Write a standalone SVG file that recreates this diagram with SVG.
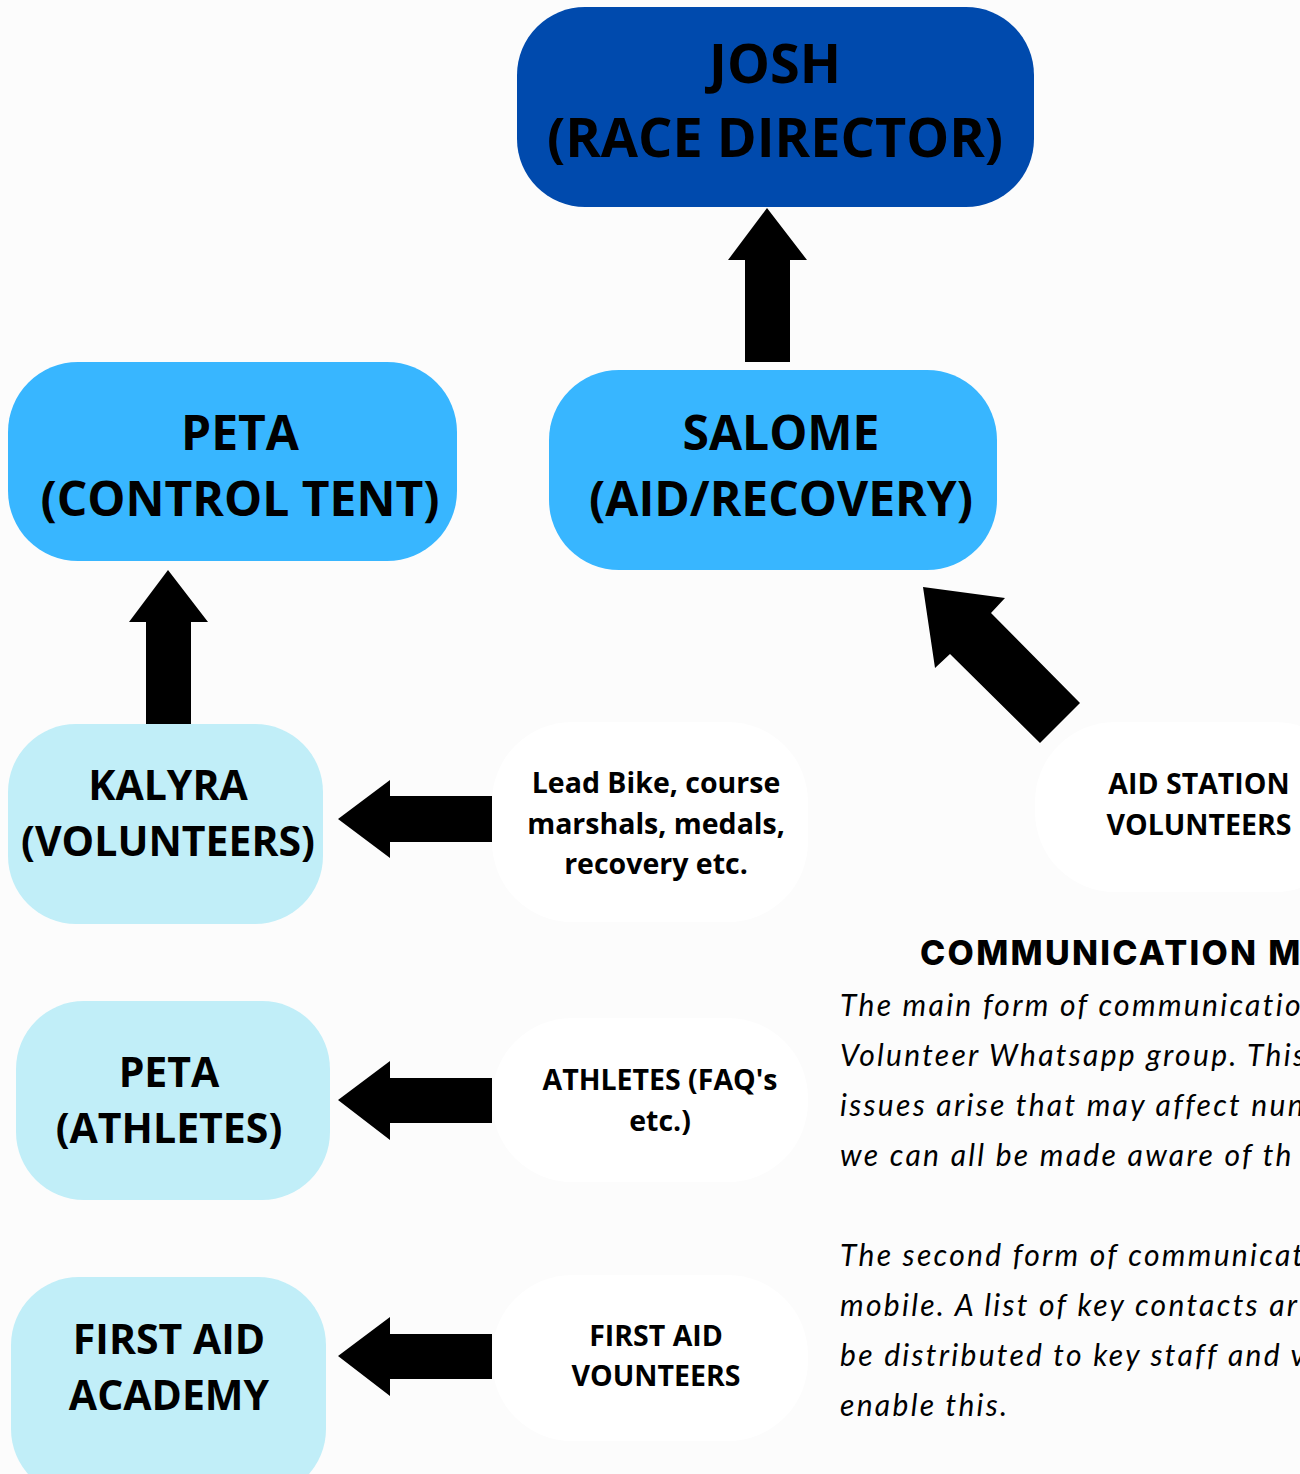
<svg xmlns="http://www.w3.org/2000/svg" width="1300" height="1474" viewBox="0 0 1300 1474">
<style>
.big{font-family:"Open Sans","Liberation Sans",sans-serif;font-weight:700;fill:#000;text-anchor:middle}
.sm{font-family:"Open Sans","Liberation Sans",sans-serif;font-weight:700;font-size:28.5px;fill:#000;text-anchor:middle}
.head{font-family:Inter,"Liberation Sans",sans-serif;font-weight:800;font-size:34px;fill:#000;letter-spacing:2.3px}
.para{font-family:Lato,"Liberation Sans",sans-serif;font-style:italic;font-size:30px;fill:#000;letter-spacing:2.3px}
.arrow{fill:#000}
</style>
<rect x="0" y="0" width="1300" height="1474" fill="#fcfcfc"/>

<g id="josh">
<rect x="517" y="7" width="517" height="200" rx="68" fill="#004aad"/>
<text class="big" x="775" y="83" font-size="54">JOSH</text>
<text class="big" x="775" y="157" font-size="54">(RACE DIRECTOR)</text>
</g>
<g id="peta-control">
<rect x="8" y="362" width="449" height="199" rx="70" fill="#38b6ff"/>
<text class="big" x="240" y="450" font-size="48">PETA</text>
<text class="big" x="240" y="516" font-size="48">(CONTROL TENT)</text>
</g>
<g id="salome">
<rect x="549" y="370" width="448" height="200" rx="70" fill="#38b6ff"/>
<text class="big" x="781" y="450" font-size="48">SALOME</text>
<text class="big" x="781" y="516" font-size="48">(AID/RECOVERY)</text>
</g>
<g id="kalyra">
<rect x="8" y="724" width="315" height="200" rx="68" fill="#c1eef8"/>
<text class="big" x="168" y="800" font-size="41">KALYRA</text>
<text class="big" x="168" y="856" font-size="41">(VOLUNTEERS)</text>
</g>
<g id="peta-athletes">
<rect x="16" y="1001" width="314" height="199" rx="68" fill="#c1eef8"/>
<text class="big" x="169" y="1087" font-size="41">PETA</text>
<text class="big" x="169" y="1143" font-size="41">(ATHLETES)</text>
</g>
<g id="first-aid-academy">
<rect x="11" y="1277" width="315" height="220" rx="68" fill="#c1eef8"/>
<text class="big" x="169" y="1354" font-size="41">FIRST AID</text>
<text class="big" x="169" y="1410" font-size="41">ACADEMY</text>
</g>
<g id="lead-bike">
<rect x="492" y="722" width="316" height="200" rx="80" fill="#ffffff"/>
<text class="sm" x="656" y="793">Lead Bike, course</text>
<text class="sm" x="656" y="834">marshals, medals,</text>
<text class="sm" x="656" y="874">recovery etc.</text>
</g>
<g id="aid-station">
<rect x="1035" y="722" width="320" height="170" rx="80" fill="#ffffff"/>
<text class="sm" x="1199" y="794">AID STATION</text>
<text class="sm" x="1199" y="835">VOLUNTEERS</text>
</g>
<g id="athletes">
<rect x="492" y="1018" width="316" height="164" rx="80" fill="#ffffff"/>
<text class="sm" x="660" y="1090">ATHLETES (FAQ's</text>
<text class="sm" x="660" y="1131">etc.)</text>
</g>
<g id="first-aid-volunteers">
<rect x="492" y="1275" width="316" height="166" rx="80" fill="#ffffff"/>
<text class="sm" x="656" y="1346">FIRST AID</text>
<text class="sm" x="656" y="1386">VOUNTEERS</text>
</g>

<g id="connectors">
<polygon class="arrow" points="767,208 807,260 790,260 790,362 745,362 745,260 728,260"/>
<polygon class="arrow" points="168,570 208,622 191,622 191,724 146,724 146,622 129,622"/>
<polygon class="arrow" points="923,587 1005,598 991,613 1080,703 1040,743 950,654 935,668"/>
<polygon class="arrow" points="338,819 390,780 390,796 492,796 492,842 390,842 390,858"/>
<polygon class="arrow" points="338,1100 390,1061 390,1078 492,1078 492,1123 390,1123 390,1140"/>
<polygon class="arrow" points="338,1356 390,1317 390,1334 492,1334 492,1379 390,1379 390,1396"/>
</g>

<g id="communication">
<text class="head" x="920" y="965">COMMUNICATION M</text>
<text class="para" x="840" y="1016">The main form of communicatio</text>
<text class="para" x="840" y="1066">Volunteer Whatsapp group. This</text>
<text class="para" x="840" y="1116">issues arise that may affect nun</text>
<text class="para" x="840" y="1166">we can all be made aware of th</text>
<text class="para" x="840" y="1266">The second form of communicat</text>
<text class="para" x="840" y="1316">mobile. A list of key contacts ar</text>
<text class="para" x="840" y="1366">be distributed to key staff and v</text>
<text class="para" x="840" y="1416">enable this.</text>
</g>
</svg>
